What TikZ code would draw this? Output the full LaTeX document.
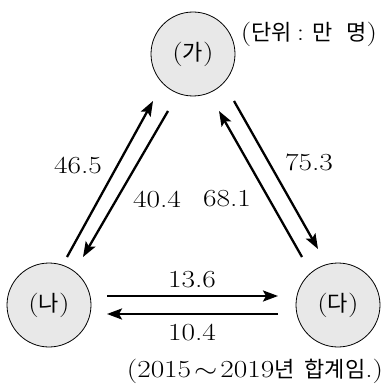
\documentclass[tikz,border=0pt]{standalone}
\usepackage{graphicx}
\usepackage{fontspec}
\newfontfamily\kr{Noto Sans CJK KR}
\usetikzlibrary{arrows.meta}
\newcommand{\nm}[1]{\scalebox{1.2}[1]{\fontsize{24.5}{28}\selectfont #1}}
\newcommand{\ko}[1]{{\kr\fontsize{22}{26}\selectfont #1}}
\begin{document}
\begin{tikzpicture}[x=1pt,y=-1pt,
  region/.style={circle,draw=black,line width=0.8pt,fill=gray!18,minimum size=84pt,inner sep=0pt},
  flow/.style={line width=2.3pt,-{Stealth[length=15pt,width=11pt,inset=3pt]}},
  val/.style={inner sep=0pt}]
\useasboundingbox (0,0) rectangle (387,385);
\node[region] (ga) at (193,54) {\nm{(}\ko{가}\nm{)}};
\node[region] (na) at (49,305) {\nm{(}\ko{나}\nm{)}};
\node[region] (da) at (338,305) {\nm{(}\ko{다}\nm{)}};
% endpoints
\coordinate (l1s) at (67,257);  \coordinate (l1e) at (153,101);
\coordinate (l2s) at (168,111); \coordinate (l2e) at (83,257);
\coordinate (r1s) at (302,257); \coordinate (r1e) at (219,111);
\coordinate (r2s) at (234,101); \coordinate (r2e) at (318,249);
\coordinate (b1s) at (107,296); \coordinate (b1e) at (278,296);
\coordinate (b2s) at (278,314); \coordinate (b2e) at (107,314);
\draw[flow] (l1s) -- (l1e);
\draw[flow] (l2s) -- (l2e);
\draw[flow] (r1s) -- (r1e);
\draw[flow] (r2s) -- (r2e);
\draw[flow] (b1s) -- (b1e);
\draw[flow] (b2s) -- (b2e);
\node[val] (v1) at (78,165) {\nm{46.5}};
\node[val] (v2) at (157,199) {\nm{40.4}};
\node[val] (v3) at (227,199) {\nm{68.1}};
\node[val] (v4) at (309,162) {\nm{75.3}};
\node[val] (v5) at (192,280) {\nm{13.6}};
\node[val] (v6) at (192,332) {\nm{10.4}};
\node[inner sep=0pt] (unit) at (309,34) {\nm{(}\ko{단위}\hspace{5pt}\nm{:}\hspace{8pt}\ko{만}\hspace{14pt}\ko{명}\nm{)}};
\node[inner sep=0pt] (note) at (255,371) {\nm{(2015}\hspace{3pt}\nm{$\sim$}\hspace{3pt}\nm{2019}\ko{년}\hspace{10pt}\ko{합계임}\nm{.)}};
\end{tikzpicture}
\end{document}
